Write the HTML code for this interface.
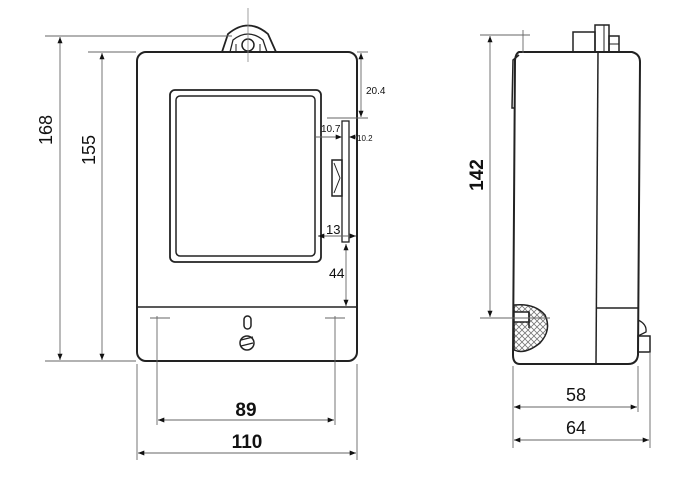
<!DOCTYPE html>
<html><head><style>
html,body{margin:0;padding:0;background:#fff;}
svg{display:block;}
text{font-family:"Liberation Sans",sans-serif;fill:#111;}
</style></head><body>
<svg width="699" height="494" viewBox="0 0 699 494" xmlns="http://www.w3.org/2000/svg">
<defs>
<marker id="a" viewBox="0 0 10 10" refX="10" refY="5" markerWidth="7" markerHeight="7" orient="auto-start-reverse"><path d="M0,1 L10,5 L0,9 z" fill="#111"/></marker>
<pattern id="h" width="6" height="6" patternUnits="userSpaceOnUse"><path d="M0,0 L6,6 M6,0 L0,6" stroke="#777" stroke-width="0.8"/></pattern>
</defs>
<g fill="none" stroke="#222">
<!-- front body -->
<rect x="137" y="52" width="220" height="309" rx="9" stroke-width="2"/>
<line x1="137" y1="307" x2="357" y2="307" stroke-width="1.5"/>
<rect x="170" y="90" width="151" height="172" rx="5" stroke-width="1.8"/>
<rect x="176" y="96" width="139" height="160" rx="4" stroke-width="1.5"/>
<!-- tab -->
<path d="M222,52 L228,34 Q248,17 268,34 L276,52" stroke-width="1.8"/>
<path d="M230,52 L233,40 Q248,28 263,40 L267,52" stroke-width="1.3"/>
<circle cx="248" cy="45" r="6" stroke-width="1.5"/>
<line x1="236" y1="44" x2="236" y2="52"/><line x1="260" y1="44" x2="260" y2="52"/>
<line x1="248" y1="8" x2="248" y2="62" stroke="#888" stroke-width="0.8"/>
<!-- strip -->
<rect x="342" y="121" width="7" height="121" stroke-width="1.3"/>
<rect x="332" y="160" width="10" height="36" stroke-width="1.5"/>
<path d="M334,163 L340,178 L334,193" stroke-width="1"/>
<!-- bottom screw -->
<rect x="244" y="316" width="7" height="13" rx="3.5" stroke-width="1.5"/>
<circle cx="247" cy="343" r="7" stroke-width="1.5"/>
<line x1="241" y1="340" x2="253" y2="337" stroke-width="1.3"/><line x1="241" y1="346" x2="253" y2="343" stroke-width="1.3"/>
</g>
<g stroke="#666" stroke-width="0.9" fill="none">
<!-- front dims -->
<line x1="45" y1="36" x2="232" y2="36"/>
<line x1="88" y1="52" x2="136" y2="52"/>
<line x1="45" y1="361" x2="136" y2="361"/>
<line x1="60" y1="37" x2="60" y2="360" marker-start="url(#a)" marker-end="url(#a)"/>
<line x1="102" y1="53" x2="102" y2="360" marker-start="url(#a)" marker-end="url(#a)"/>
<line x1="357" y1="52" x2="368" y2="52"/>
<line x1="327" y1="118" x2="368" y2="118"/>
<line x1="361" y1="53" x2="361" y2="117" marker-start="url(#a)" marker-end="url(#a)"/>
<line x1="316" y1="137" x2="342" y2="137" marker-end="url(#a)"/>
<line x1="357" y1="137" x2="349" y2="137" marker-end="url(#a)"/>
<line x1="318" y1="236" x2="356" y2="236" marker-start="url(#a)" marker-end="url(#a)"/>
<line x1="346" y1="244" x2="346" y2="306" marker-start="url(#a)" marker-end="url(#a)"/>
<line x1="157" y1="316" x2="157" y2="425"/>
<line x1="150" y1="318" x2="170" y2="318"/>
<line x1="335" y1="316" x2="335" y2="425"/>
<line x1="325" y1="318" x2="345" y2="318"/>
<line x1="137" y1="364" x2="137" y2="460"/>
<line x1="357" y1="364" x2="357" y2="460"/>
<line x1="158" y1="420" x2="334" y2="420" marker-start="url(#a)" marker-end="url(#a)"/>
<line x1="138" y1="453" x2="356" y2="453" marker-start="url(#a)" marker-end="url(#a)"/>
</g>
<text x="47" y="130" font-size="18" text-anchor="middle" transform="rotate(-90 47 130)" dominant-baseline="middle">168</text>
<text x="90" y="150" font-size="18" text-anchor="middle" transform="rotate(-90 90 150)" dominant-baseline="middle">155</text>
<text x="366" y="94" font-size="10">20.4</text>
<text x="321" y="132" font-size="10">10.7</text>
<text x="357" y="141" font-size="8">10.2</text>
<text x="326" y="234" font-size="13">13</text>
<text x="329" y="278" font-size="14">44</text>
<text x="246" y="416" font-size="19" font-weight="bold" text-anchor="middle">89</text>
<text x="247" y="448" font-size="19" font-weight="bold" text-anchor="middle">110</text>
<!-- side view -->
<g fill="none" stroke="#222">
<path d="M519,52 L632,52 Q640,54 640,62 L638,355 Q637,364 628,364 L520,364 Q513,364 513,355 L515,60 Q516,53 519,52 Z" stroke-width="2"/>
<line x1="598" y1="52" x2="596" y2="364" stroke-width="1.5"/>
<line x1="597" y1="308" x2="638" y2="308" stroke-width="1.5"/>
<path d="M519,55 L513,60 L512,108 L515,108" stroke-width="1.5"/>
<rect x="573" y="32" width="22" height="20" stroke-width="1.5"/>
<rect x="595" y="25" width="14" height="27" stroke-width="1.5"/>
<line x1="604" y1="25" x2="604" y2="52"/>
<rect x="609" y="36" width="10" height="16" stroke-width="1.5"/>
<line x1="609" y1="44" x2="619" y2="44"/>
<path d="M514,305 Q535,303 545,315 Q552,330 540,343 Q525,355 514,350 Z" fill="url(#h)" stroke-width="1.5"/>
<rect x="514" y="312" width="15" height="10" fill="#fff" stroke-width="1.5"/>
<line x1="529" y1="312" x2="529" y2="328" stroke-width="1.5"/>
<path d="M638,320 Q647,324 646,332 L638,336" stroke-width="1.3"/>
<rect x="638" y="336" width="12" height="16" stroke-width="1.5"/>
</g>
<g stroke="#666" stroke-width="0.9" fill="none">
<line x1="480" y1="35" x2="530" y2="35"/>
<line x1="523" y1="30" x2="523" y2="53"/>
<line x1="480" y1="318" x2="550" y2="318"/>
<line x1="490" y1="36" x2="490" y2="317" marker-start="url(#a)" marker-end="url(#a)"/>
<line x1="513" y1="366" x2="513" y2="448"/>
<line x1="638" y1="366" x2="638" y2="412"/>
<line x1="650" y1="352" x2="650" y2="448"/>
<line x1="514" y1="407" x2="637" y2="407" marker-start="url(#a)" marker-end="url(#a)"/>
<line x1="514" y1="440" x2="649" y2="440" marker-start="url(#a)" marker-end="url(#a)"/>
</g>
<text x="478" y="175" font-size="19" font-weight="bold" text-anchor="middle" transform="rotate(-90 478 175)" dominant-baseline="middle">142</text>
<text x="576" y="401" font-size="18" text-anchor="middle">58</text>
<text x="576" y="434" font-size="18" text-anchor="middle">64</text>
</svg>
</body></html>
